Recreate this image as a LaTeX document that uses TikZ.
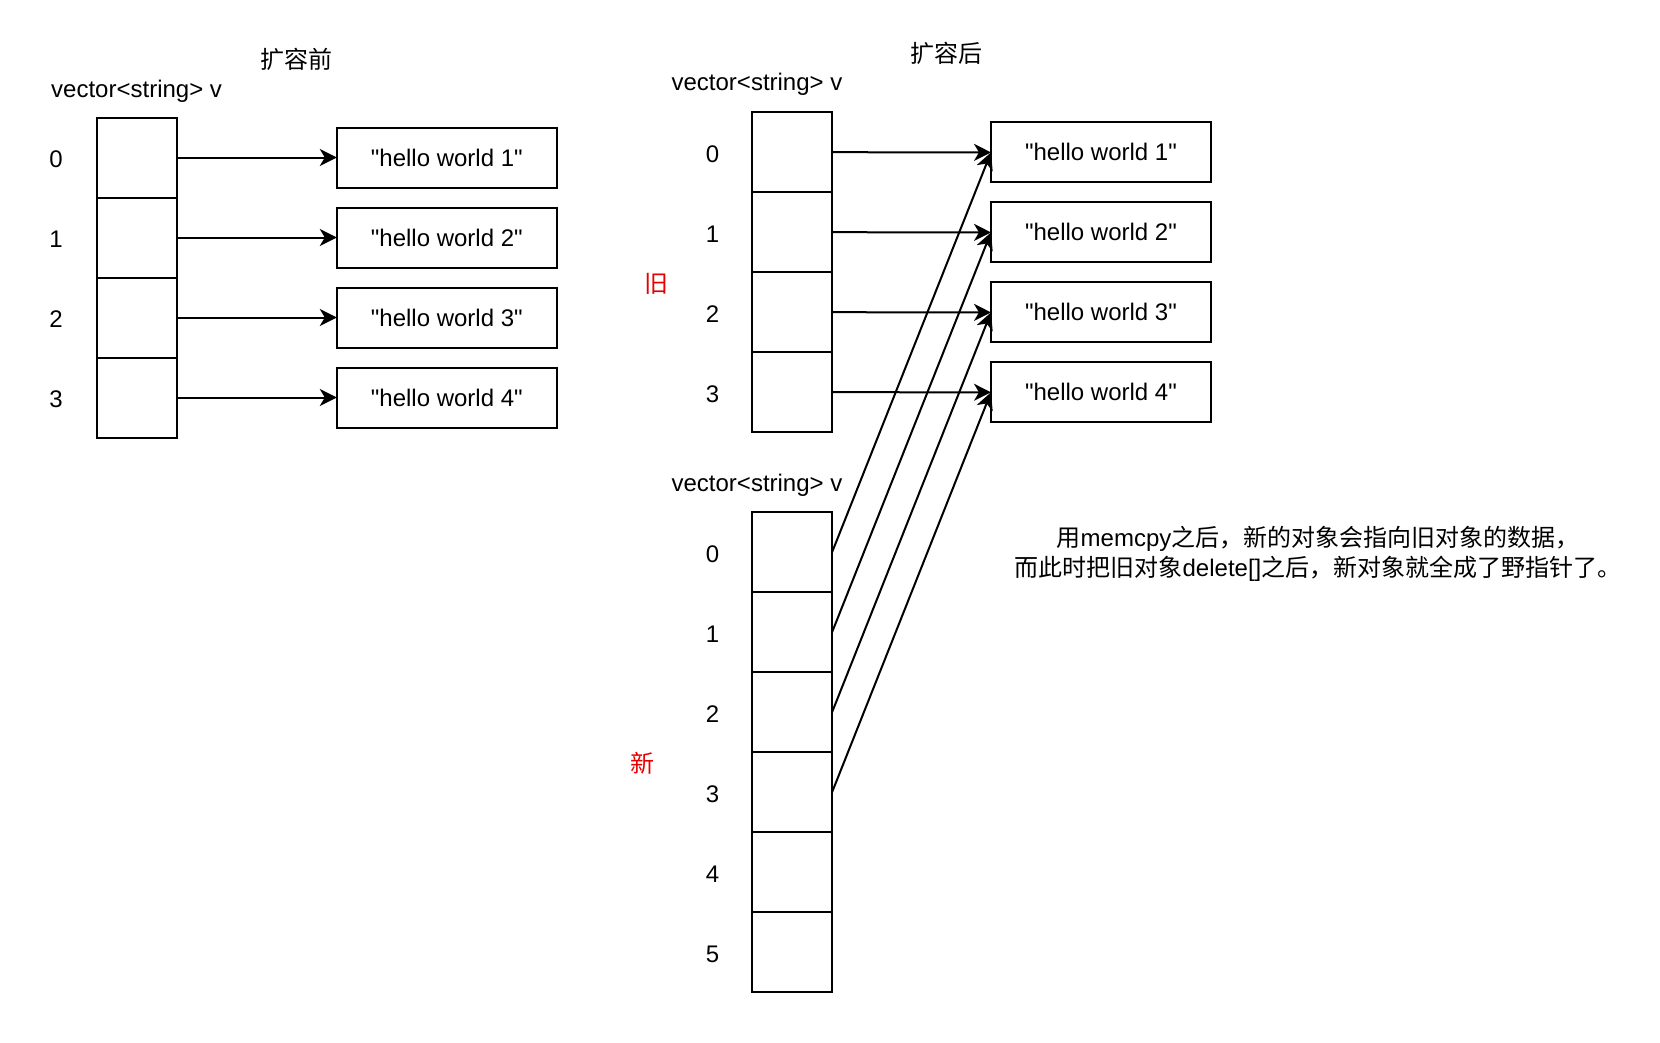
\documentclass[tikz,border=0pt]{standalone}
\usepackage{fontspec}
\setmainfont{Liberation Sans}[Ligatures=TeXOff]
\newfontfamily\cjk{Noto Sans CJK SC}
\usetikzlibrary{arrows.meta}
\definecolor{redlbl}{RGB}{230,0,0}
\tikzset{
  cell/.style={draw, line width=2pt, minimum width=80pt, minimum height=80pt, inner sep=0pt, outer sep=0pt},
  strbox/.style={draw, line width=2pt, minimum width=220pt, minimum height=60pt, inner sep=0pt, outer sep=0pt, font=\fontsize{24}{28}\selectfont},
  txt/.style={font=\fontsize{24}{28}\selectfont, inner sep=0pt, yshift=-2pt},
  cjktxt/.style={font=\fontsize{24}{28}\selectfont\cjk, inner sep=0pt, yshift=-1pt},
  ptr/.style={line width=2pt, -{Stealth[length=17pt, width=17pt, inset=5pt]}},
}
\begin{document}
\begin{tikzpicture}[x=1pt, y=-1pt]
\useasboundingbox (0,0) rectangle (1660,1042);
% ---------- before expansion ----------
\node[cjktxt] (t1) at (296.4,58.2) {扩容前};
\node[txt] (v1) at (136.6,88.9) {vector<string> v};
\foreach \i/\y in {0/157.5,1/237.5,2/317.5,3/397.5}{
  \node[cell] (a\i) at (136.5,\y) {};
  \node[txt] (al\i) at (56,\y) {\i};
}
\foreach \i/\y/\n in {0/157.5/1,1/237.5/2,2/317.5/3,3/397.5/4}{
  \node[strbox] (s\i) at (446.8,\y) {"hello world \n"};
  \draw[ptr] (a\i.east) -- (s\i.west);
}
% ---------- after expansion ----------
\node[cjktxt] (t2) at (946.5,51.9) {扩容后};
\node[txt] (v2) at (757,82.6) {vector<string> v};
\node[cjktxt, text=redlbl] (old) at (656.4,282.7) {旧};
\foreach \i/\y in {0/152.2,1/232.2,2/312.2,3/392.2}{
  \node[cell] (b\i) at (792,\y) {};
  \node[txt] (bl\i) at (712.5,\y) {\i};
}
\foreach \i/\y/\n in {0/152.4/1,1/232.4/2,2/312.4/3,3/392.3/4}{
  \node[strbox] (r\i) at (1101,\y) {"hello world \n"};
  \draw[ptr] (b\i.east) -- (r\i.west);
}
\node[txt] (v3) at (757,482.8) {vector<string> v};
\node[cjktxt, text=redlbl] (new) at (642.6,762.3) {新};
\foreach \i/\y in {0/552.4,1/632.4,2/712.4,3/792.4,4/872.4,5/952.4}{
  \node[cell] (c\i) at (792,\y) {};
  \node[txt] (cl\i) at (712.5,\y) {\i};
}
\foreach \i in {0,1,2,3}{
  \draw[ptr] (c\i.east) -- (r\i.west);
}
\node[txt, align=center, font=\fontsize{24}{30}\selectfont] (note) at (1318,551.6)
  {{\cjk 用}memcpy{\cjk 之后，新的对象会指向旧对象的数据，}\\{\cjk 而此时把旧对象}delete[]{\cjk 之后，新对象就全成了野指针了。}};
\end{tikzpicture}
\end{document}
